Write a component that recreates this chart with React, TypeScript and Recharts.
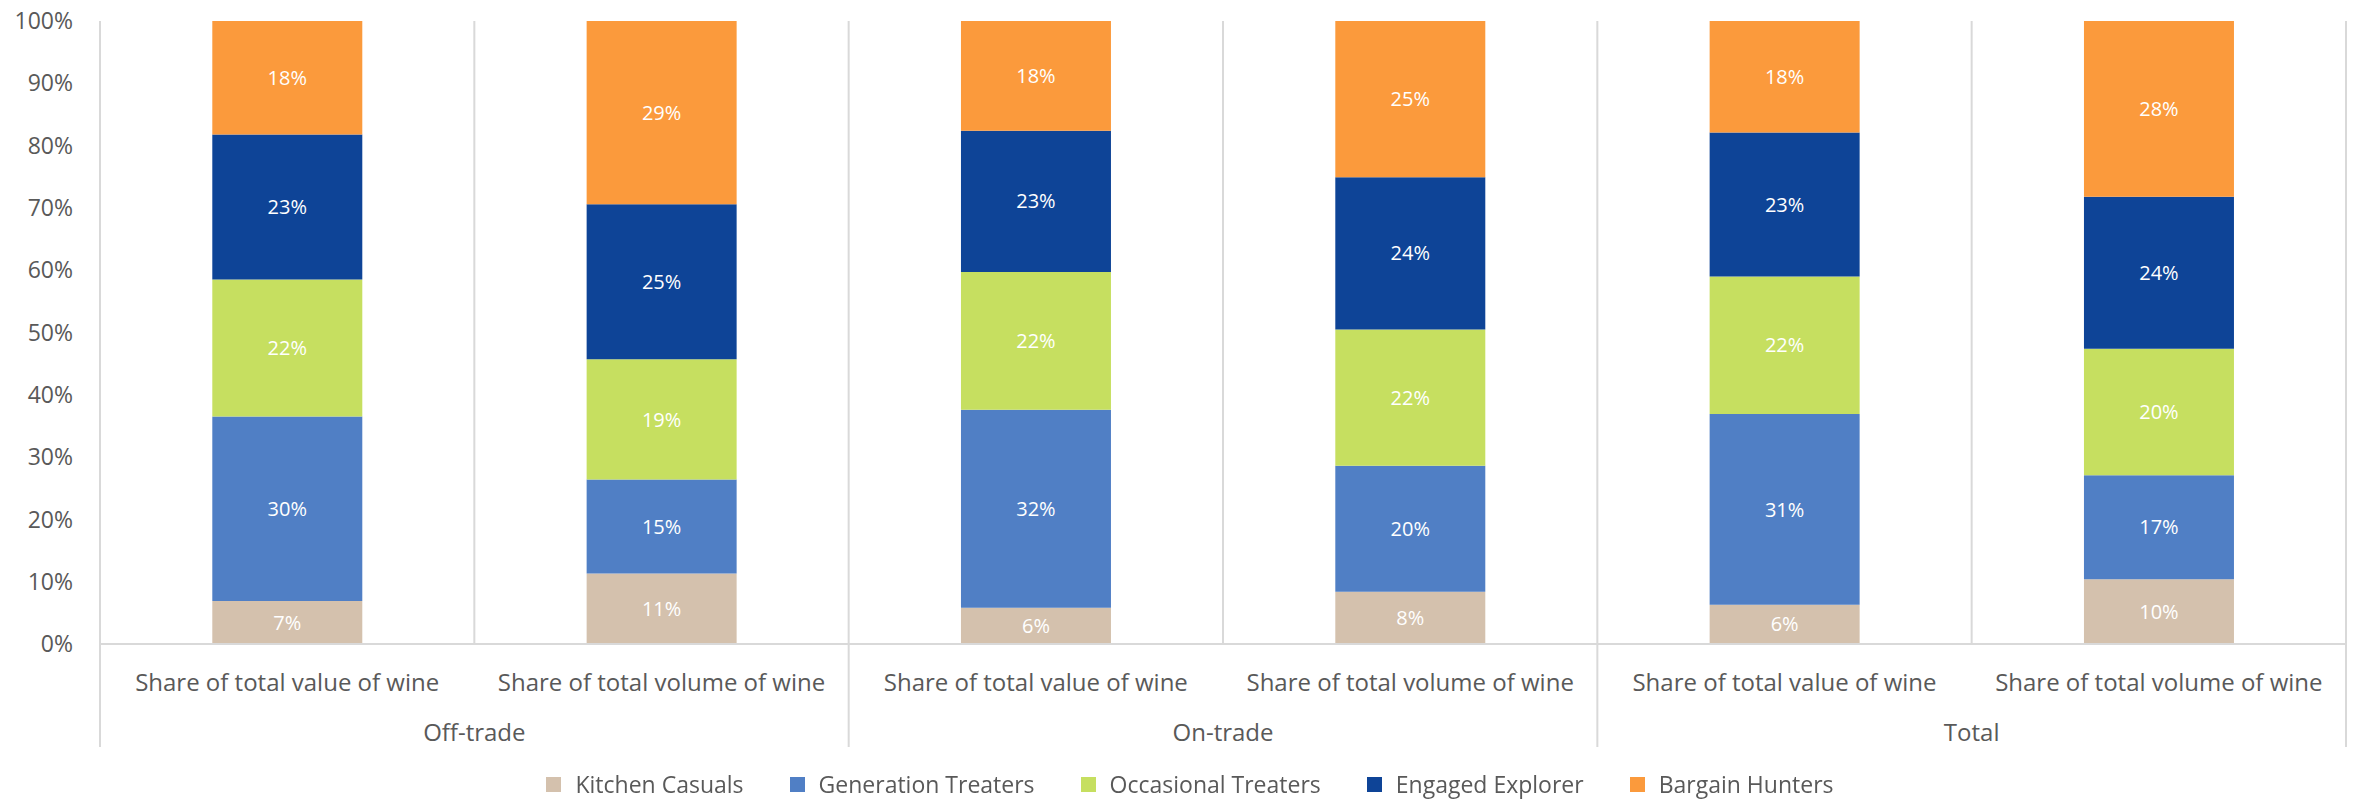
import { BarChart, Bar, XAxis, YAxis, CartesianGrid, Legend, LabelList } from 'recharts';

// sub-category and group labels along the x axis
const categories = [
  'Share of total value of wine',
  'Share of total volume of wine',
  'Share of total value of wine',
  'Share of total volume of wine',
  'Share of total value of wine',
  'Share of total volume of wine',
];
const groups = ['Off-trade', 'Off-trade', 'On-trade', 'On-trade', 'Total', 'Total'];

// segment shares in % (bottom to top)
const kitchenCasuals = [6.9, 11.3, 5.8, 8.4, 6.3, 10.4];
const generationTreaters = [29.6, 15.1, 31.8, 20.2, 30.6, 16.7];
const occasionalTreaters = [22.0, 19.3, 22.1, 21.9, 22.1, 20.3];
const engagedExplorer = [23.3, 24.9, 22.7, 24.4, 23.1, 24.4];
const bargainHunters = [18.2, 29.4, 17.6, 25.1, 17.9, 28.2];

const yTicks = [0, 10, 20, 30, 40, 50, 60, 70, 80, 90, 100];

const series = [
  { key: 'kitchen', name: 'Kitchen Casuals', color: '#D4C1AD', values: kitchenCasuals },
  { key: 'generation', name: 'Generation Treaters', color: '#507FC5', values: generationTreaters },
  { key: 'occasional', name: 'Occasional Treaters', color: '#C6DF60', values: occasionalTreaters },
  { key: 'engaged', name: 'Engaged Explorer', color: '#0E4497', values: engagedExplorer },
  { key: 'bargain', name: 'Bargain Hunters', color: '#FB9A3C', values: bargainHunters },
];

const data = categories.map((name, i) => {
  const row: Record<string, string | number> = { name, group: groups[i] };
  series.forEach((s) => (row[s.key] = s.values[i]));
  return row;
});

const W = 2356;
const H = 799;
const Y_W = 100;
const M_RIGHT = 10;
const AXIS_H = 103;
const GRID = '#D9D9D9';
const TEXT = '#595959';
const BAND = (W - Y_W - M_RIGHT) / categories.length;

function CategoryTick(props: any) {
  const { x, y, payload } = props;
  const i = props.index ?? payload.index;
  const g = groups[i];
  const first = i === 0 || groups[i - 1] !== g;
  const size = groups.filter((v) => v === g).length;
  const last = i === groups.length - 1;
  return (
    <g>
      <text x={x} y={y + 37} textAnchor="middle" dominantBaseline="central" fill={TEXT} fontSize={24}>
        {payload.value}
      </text>
      {first && (
        <>
          <line x1={x - BAND / 2} x2={x - BAND / 2} y1={y} y2={y + AXIS_H} stroke={GRID} strokeWidth={2} />
          <text x={x + ((size - 1) * BAND) / 2} y={y + 87} textAnchor="middle" dominantBaseline="central" fill={TEXT} fontSize={24}>
            {g}
          </text>
        </>
      )}
      {last && <line x1={x + BAND / 2} x2={x + BAND / 2} y1={y} y2={y + AXIS_H} stroke={GRID} strokeWidth={2} />}
    </g>
  );
}

function LegendBox() {
  return (
    <div
      style={{
        height: 52,
        boxSizing: 'border-box',
        paddingTop: 22,
        paddingLeft: 34,
        display: 'flex',
        justifyContent: 'center',
        gap: 46,
        fontFamily: 'Open Sans',
        fontSize: 23,
        color: TEXT,
      }}
    >
      {series.map((s) => (
        <div key={s.key} style={{ display: 'flex', alignItems: 'center', height: 30, lineHeight: '30px' }}>
          <span style={{ width: 15, height: 15, background: s.color, marginRight: 14, display: 'inline-block' }} />
          <span>{s.name}</span>
        </div>
      ))}
    </div>
  );
}

export default function App() {
  return (
    <div style={{ position: 'fixed', left: 0, top: 0, fontFamily: 'Open Sans', background: '#fff' }}>
      <BarChart width={W} height={H} data={data} margin={{ top: 21, right: M_RIGHT, left: 0, bottom: 0 }} barCategoryGap="30%">
        <CartesianGrid
          horizontal={false}
          stroke={GRID}
          strokeWidth={2}
          verticalCoordinatesGenerator={({ offset }: any) =>
            categories.map((_, i) => offset.left + (offset.width * i) / categories.length).concat(offset.left + offset.width)
          }
        />
        <XAxis
          dataKey="name"
          height={AXIS_H}
          interval={0}
          tickLine={false}
          tickSize={0}
          tickMargin={0}
          axisLine={{ stroke: GRID, strokeWidth: 2 }}
          tick={<CategoryTick />}
        />
        <YAxis
          width={Y_W}
          domain={[0, 100]}
          ticks={yTicks}
          tickFormatter={(v) => `${v}%`}
          axisLine={false}
          tickLine={false}
          tickSize={0}
          tickMargin={27}
          tick={{ fill: TEXT, fontSize: 23 }}
        />
        <Legend verticalAlign="bottom" height={52} content={() => <LegendBox />} />
        {series.map((s) => (
          <Bar key={s.key} dataKey={s.key} name={s.name} stackId="a" fill={s.color} isAnimationActive={false}>
            <LabelList
              dataKey={s.key}
              position="center"
              fill="#ffffff"
              fontSize={20}
              formatter={(v: any) => `${Math.round(Number(v))}%`}
            />
          </Bar>
        ))}
      </BarChart>
    </div>
  );
}
